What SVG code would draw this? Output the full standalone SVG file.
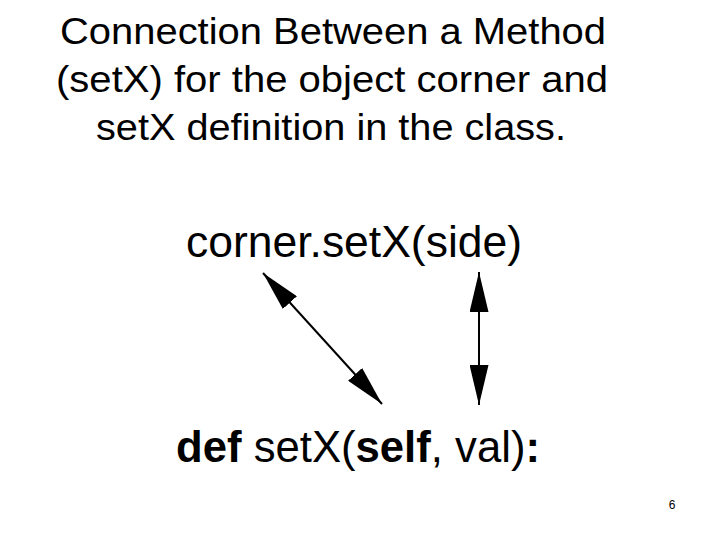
<svg xmlns="http://www.w3.org/2000/svg" width="720" height="540" viewBox="0 0 720 540">
<style>
.t{font-family:"Liberation Sans",Arial,sans-serif;fill:#000}
.title{font-size:37px;text-anchor:middle}
.code{font-size:44px}
.b{font-weight:bold}
.conn{stroke:#000;stroke-width:2;fill:none;marker-start:url(#ah);marker-end:url(#ah)}
</style>
<defs>
<marker id="ah" markerUnits="userSpaceOnUse" markerWidth="40" markerHeight="19" refX="40" refY="9.5" orient="auto-start-reverse" viewBox="0 0 40 19">
<path d="M0,0 L40,9.5 L0,19 z" fill="#000"/>
</marker>
</defs>
<rect width="720" height="540" fill="#fff"/>
<g id="title">
<text class="t title" x="333" y="44" textLength="546" lengthAdjust="spacingAndGlyphs">Connection Between a Method</text>
<text class="t title" x="332" y="92" textLength="552" lengthAdjust="spacingAndGlyphs">(setX) for the object corner and</text>
<text class="t title" x="331" y="140" textLength="470" lengthAdjust="spacingAndGlyphs">setX definition in the class.</text>
</g>
<g id="call">
<text class="t code" x="186" y="257" textLength="336" lengthAdjust="spacingAndGlyphs">corner.setX(side)</text>
</g>
<g id="def">
<text class="t code" x="176" y="462" textLength="364" lengthAdjust="spacingAndGlyphs"><tspan class="b">def</tspan> setX(<tspan class="b">self</tspan>, val)<tspan class="b">:</tspan></text>
</g>
<g id="connectors">
<line class="conn" x1="263" y1="273" x2="382" y2="404"/>
<line class="conn" x1="479" y1="272" x2="479" y2="405"/>
</g>
<g id="page">
<text class="t" x="672" y="509" font-size="12" text-anchor="middle">6</text>
</g>
</svg>
